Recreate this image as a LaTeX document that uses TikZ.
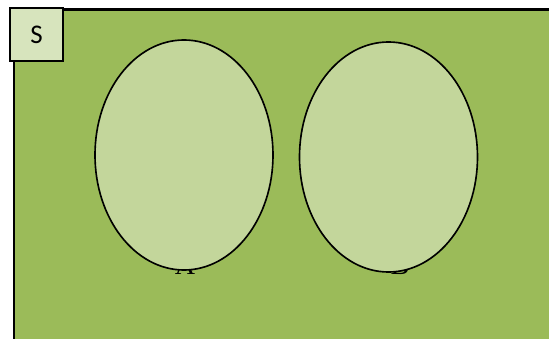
\documentclass[tikz,border=0pt]{standalone}
\usepackage{fontspec}
\setmainfont{Liberation Serif}
\newfontfamily\boxfont{Carlito}
\usetikzlibrary{shapes.geometric}
\definecolor{setgreen}{HTML}{9BBB59}
\definecolor{ovalgreen}{HTML}{C3D69B}
\definecolor{tabgreen}{HTML}{D7E4BD}
\tikzset{
  setoval/.style={ellipse,draw=black,fill=ovalgreen,line width=1.4pt,
    minimum width=5.34cm,minimum height=6.9cm,inner sep=0pt},
  setlabel/.style={anchor=base,font=\fontsize{24}{28}\selectfont,inner sep=0pt},
  universe/.style={draw=black,fill=setgreen,line width=1.8pt},
  tag/.style={draw=black,fill=tabgreen,line width=1.6pt,minimum size=1.59cm,
    inner sep=0pt,font=\boxfont\fontsize{23}{27}\selectfont}
}
\begin{document}
\begin{tikzpicture}[x=0.03cm,y=-0.03cm]
  \useasboundingbox (0,0) rectangle (549,339);
  \clip (0,0) rectangle (549,339);
  \fill[white] (0,0) rectangle (549,339);
  % universal set
  \node[universe,minimum width=16.8cm,minimum height=10.5cm,anchor=north west] (univ) at (12.5,8.5) {};
  % labels sit under the sets
  \node[setlabel] (la) at (185,275) {A};
  \node[setlabel] (lb) at (400,275) {B};
  \node[setoval] (seta) at (184,155) {};
  \node[setoval] (setb) at (388.5,157) {};
  \node[tag] (s) at (36.5,34.5) {S};
\end{tikzpicture}
\end{document}
